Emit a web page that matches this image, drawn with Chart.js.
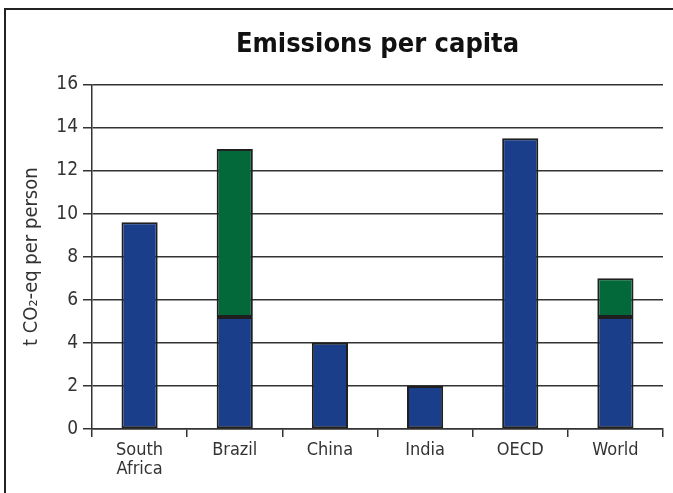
<!DOCTYPE html>
<html>
<head>
<meta charset="utf-8">
<script src="https://cdn.jsdelivr.net/npm/chart.js@4.4.1/dist/chart.umd.min.js"></script>
<style>
  html, body { margin: 0; padding: 0; background: #fff; }
  #wrap { position: relative; width: 673px; height: 493px; overflow: hidden; }
  #frame { position: absolute; left: 4px; top: 8px; width: 720px; height: 600px;
           border-left: 2px solid #222; border-top: 2px solid #222; pointer-events: none; }
  canvas { position: absolute; left: 0; top: 0; }
</style>
</head>
<body>
<div id="wrap">
  <canvas id="emissionsChart" width="673" height="493"></canvas>
  <div id="frame"></div>
</div>
<script>
const countries = [['South', 'Africa'], 'Brazil', 'China', 'India', 'OECD', 'World'];
const energyEmissions = [9.6, 5.2, 4.0, 2.0, 13.5, 5.2];
const landUseEmissions = [null, 7.8, null, null, null, 1.8];
const yTicks = [0, 2, 4, 6, 8, 10, 12, 14, 16];

const narrow = "'Liberation Sans Narrow', 'DejaVu Sans Condensed', 'Arial Narrow', sans-serif";
const ink = '#333';

const ctx = document.getElementById('emissionsChart').getContext('2d');
const myChart = new Chart(ctx, {
    type: 'bar',
    data: {
        labels: countries,
        datasets: [
            {
                label: 'Energy',
                data: energyEmissions,
                backgroundColor: '#1a3e89',
                borderColor: '#1f1f1f',
                borderWidth: 2,
                borderSkipped: false
            },
            {
                label: 'Land use',
                data: landUseEmissions,
                backgroundColor: '#03693a',
                borderColor: '#1f1f1f',
                borderWidth: 2,
                borderSkipped: false
            }
        ]
    },
    options: {
        responsive: false,
        animation: false,
        layout: { padding: { top: 8, right: 10, left: 0, bottom: 0 } },
        datasets: { bar: { categoryPercentage: 1, barPercentage: 0.38 } },
        plugins: {
            legend: { display: false },
            tooltip: { enabled: false },
            title: {
                display: true,
                fullSize: false,
                text: 'Emissions per capita',
                color: '#111',
                font: { family: narrow, size: 27, weight: 'bold', lineHeight: 1.2 },
                padding: { top: 21, bottom: 23 }
            }
        },
        scales: {
            x: {
                stacked: true,
                afterFit: (scale) => { scale.height = 64; },
                grid: {
                    offset: true,
                    drawOnChartArea: false,
                    drawTicks: true,
                    tickLength: 8,
                    color: ink,
                    lineWidth: 1.5
                },
                border: { display: true, color: ink, width: 1.5 },
                ticks: {
                    color: ink,
                    padding: 3,
                    maxRotation: 0,
                    autoSkip: false,
                    font: { family: narrow, size: 18, lineHeight: 1.1 }
                }
            },
            y: {
                stacked: true,
                min: 0,
                max: 16,
                afterFit: (scale) => { scale.width = 92; },
                afterBuildTicks: (scale) => { scale.ticks = yTicks.map(v => ({ value: v })); },
                grid: {
                    color: ink,
                    lineWidth: 1.5,
                    drawTicks: true,
                    tickLength: 9
                },
                border: { display: true, color: ink, width: 1.5 },
                ticks: {
                    color: ink,
                    padding: 5,
                    font: { family: narrow, size: 19 }
                },
                title: {
                    display: true,
                    text: 't CO₂-eq per person',
                    color: ink,
                    font: { family: narrow, size: 20 },
                    padding: { top: 20, bottom: 0 }
                }
            }
        }
    }
});
</script>
</body>
</html>
